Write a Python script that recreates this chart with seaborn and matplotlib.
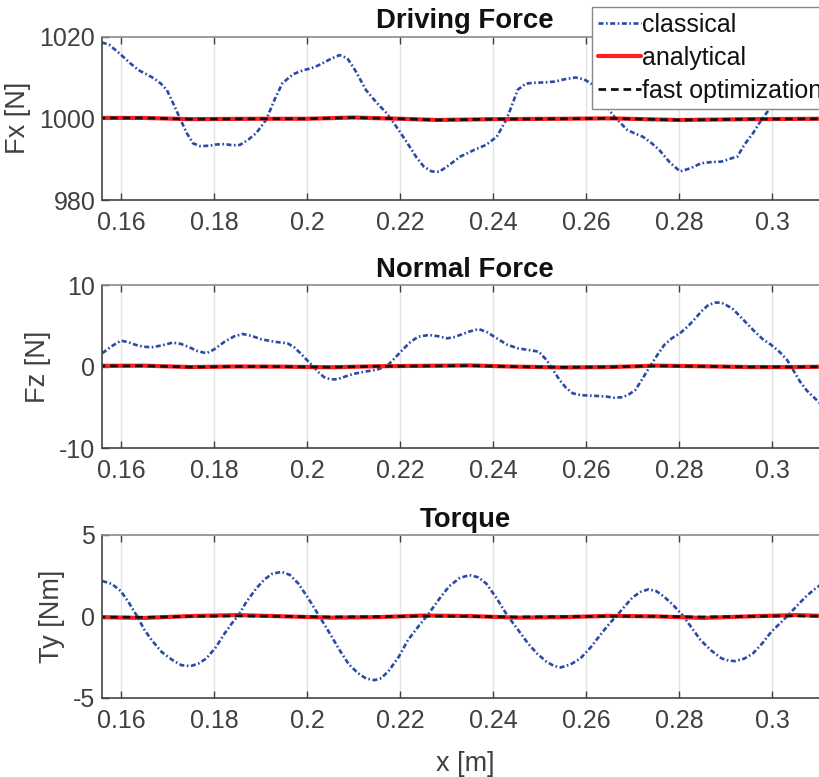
import numpy as np
import pandas as pd
import matplotlib
matplotlib.use("Agg")
import matplotlib.pyplot as plt
import seaborn as sns

# ---------------- data ----------------
fx_cls_x = [0.1559, 0.1575, 0.1598, 0.1620, 0.1638, 0.1655, 0.1671, 0.1686, 0.1699, 0.1713,
            0.1727, 0.1741, 0.1755, 0.1770, 0.1790, 0.1805, 0.1823, 0.1840, 0.1856, 0.1874,
            0.1891, 0.1912, 0.1930, 0.1947, 0.1970, 0.1992, 0.2010, 0.2025, 0.2050, 0.2070,
            0.2087, 0.2105, 0.2127, 0.2150, 0.2171, 0.2195, 0.2216, 0.2235, 0.2251, 0.2268,
            0.2284, 0.2305, 0.2329, 0.2360, 0.2385, 0.2408, 0.2430, 0.2453, 0.2470, 0.2487,
            0.2510, 0.2532, 0.2555, 0.2577, 0.2595, 0.2610, 0.2633, 0.2660, 0.2689, 0.2705,
            0.2722, 0.2740, 0.2757, 0.2780, 0.2802, 0.2825, 0.2847, 0.2870, 0.2891, 0.2915,
            0.2925, 0.2940, 0.2959, 0.2976, 0.2993, 0.3010, 0.3026, 0.3060, 0.3120]
fx_cls_y = [1018.6, 1018.0, 1015.8, 1013.5, 1011.8, 1010.8, 1009.8, 1008.5, 1006.9, 1003.5,
            1000.0, 996.5, 993.9, 993.2, 993.3, 993.6, 993.7, 993.4, 993.5, 994.8,
            996.4, 999.6, 1004.5, 1008.6, 1010.8, 1011.8, 1012.3, 1013.0, 1014.5, 1015.5,
            1014.7, 1011.5, 1006.9, 1003.8, 1001.3, 997.5, 993.9, 990.5, 988.2, 987.0,
            986.9, 988.5, 990.6, 992.3, 993.5, 995.5, 1000.0, 1007.0, 1008.5, 1008.7,
            1008.8, 1009.0, 1009.6, 1010.0, 1009.6, 1008.6, 1004.5, 1000.5, 997.1, 996.3,
            995.5, 994.0, 992.3, 989.2, 987.0, 987.8, 989.0, 989.3, 989.4, 990.3,
            990.6, 993.5, 996.4, 999.5, 1002.1, 1003.5, 1004.5, 1006.5, 1007.5]

fx_ana_x = [0.155, 0.165, 0.175, 0.19, 0.20, 0.21, 0.22, 0.228, 0.24, 0.255, 0.265, 0.28, 0.295, 0.312]
fx_ana_y = [1000.1, 1000.1, 999.8, 999.9, 999.9, 1000.2, 999.9, 999.6, 999.8, 999.9, 1000.0, 999.6, 999.8, 999.9]
fx_opt_y = [1000.1, 1000.1, 999.8, 999.9, 999.9, 1000.2, 999.9, 999.6, 999.8, 999.9, 1000.0, 999.6, 999.8, 999.9]

fz_cls_x = [0.1560, 0.1580, 0.1600, 0.1616, 0.1632, 0.1648, 0.1666, 0.1688, 0.1711, 0.1728,
            0.1744, 0.1765, 0.1784, 0.1800, 0.1823, 0.1843, 0.1862, 0.1882, 0.1902, 0.1930,
            0.1958, 0.1972, 0.1986, 0.2000, 0.2014, 0.2025, 0.2037, 0.2050, 0.2065, 0.2080,
            0.2099, 0.2125, 0.2149, 0.2172, 0.2188, 0.2205, 0.2222, 0.2239, 0.2262, 0.2285,
            0.2301, 0.2315, 0.2329, 0.2349, 0.2369, 0.2388, 0.2408, 0.2430, 0.2453, 0.2475,
            0.2498, 0.2515, 0.2529, 0.2543, 0.2557, 0.2571, 0.2590, 0.2610, 0.2627, 0.2644,
            0.2660, 0.2678, 0.2692, 0.2706, 0.2722, 0.2739, 0.2754, 0.2768, 0.2785, 0.2802,
            0.2820, 0.2835, 0.2850, 0.2863, 0.2878, 0.2891, 0.2914, 0.2937, 0.2959, 0.2979,
            0.2998, 0.3016, 0.3032, 0.3046, 0.3060, 0.3074, 0.3088, 0.3103]
fz_cls_y = [1.64, 2.50, 3.18, 3.00, 2.66, 2.45, 2.37, 2.60, 2.94, 2.80,
            2.45, 1.90, 1.64, 2.10, 3.06, 3.70, 4.00, 3.75, 3.35, 3.05,
            2.86, 2.40, 1.64, 0.80, 0.00, -0.70, -1.30, -1.55, -1.55, -1.25,
            -0.90, -0.60, -0.40, 0.08, 1.00, 2.04, 3.00, 3.67, 3.88, 3.70,
            3.47, 3.60, 3.88, 4.30, 4.61, 4.20, 3.47, 2.70, 2.25, 2.05,
            1.84, 0.82, -0.40, -1.63, -2.60, -3.26, -3.50, -3.55, -3.60, -3.67,
            -3.80, -3.75, -3.40, -2.85, -1.40, 0.20, 1.50, 2.66, 3.50, 4.09,
            5.00, 5.93, 6.90, 7.56, 7.85, 7.84, 7.15, 5.80, 4.49, 3.40,
            2.66, 1.80, 0.82, -0.50, -1.84, -2.90, -3.67, -4.49]

fz_ana_x = [0.155, 0.165, 0.175, 0.185, 0.195, 0.205, 0.215, 0.225, 0.235, 0.245, 0.255,
            0.265, 0.275, 0.285, 0.295, 0.305, 0.312]
fz_ana_y = [0.10, 0.12, -0.05, 0.02, 0.00, -0.08, 0.05, 0.10, 0.15, 0.00, -0.10,
            -0.05, 0.12, 0.05, -0.05, -0.05, 0.00]
fz_opt_y = [0.08, 0.10, -0.05, 0.02, 0.00, -0.06, 0.04, 0.08, 0.12, 0.00, -0.08,
            -0.04, 0.10, 0.04, -0.04, -0.04, 0.00]

ty_cls_x = [0.1560, 0.1580, 0.1600, 0.1618, 0.1635, 0.1650, 0.1666, 0.1688, 0.1711, 0.1730,
            0.1750, 0.1767, 0.1784, 0.1804, 0.1823, 0.1838, 0.1853, 0.1870, 0.1891, 0.1908,
            0.1924, 0.1945, 0.1963, 0.1981, 0.2003, 0.2025, 0.2048, 0.2070, 0.2090, 0.2110,
            0.2127, 0.2145, 0.2160, 0.2177, 0.2197, 0.2217, 0.2240, 0.2262, 0.2285, 0.2306,
            0.2328, 0.2349, 0.2368, 0.2385, 0.2408, 0.2430, 0.2453, 0.2475, 0.2495, 0.2515,
            0.2531, 0.2546, 0.2567, 0.2588, 0.2610, 0.2633, 0.2650, 0.2667, 0.2684, 0.2700,
            0.2717, 0.2734, 0.2751, 0.2768, 0.2787, 0.2807, 0.2827, 0.2846, 0.2869, 0.2891,
            0.2906, 0.2920, 0.2940, 0.2959, 0.2979, 0.2998, 0.3018, 0.3038, 0.3055, 0.3072,
            0.3088, 0.3103]
ty_cls_y = [2.17, 2.00, 1.55, 0.80, 0.00, -0.80, -1.46, -2.20, -2.69, -3.00,
            -3.06, -2.90, -2.58, -1.90, -1.05, -0.45, 0.08, 0.90, 1.72, 2.25,
            2.60, 2.74, 2.55, 2.03, 1.10, 0.08, -1.00, -2.07, -2.95, -3.50,
            -3.82, -3.92, -3.80, -3.30, -2.50, -1.46, -0.60, 0.18, 1.10, 1.86,
            2.35, 2.54, 2.40, 2.03, 1.10, 0.08, -0.80, -1.66, -2.30, -2.79,
            -3.05, -3.14, -2.95, -2.58, -1.90, -1.05, -0.45, 0.08, 0.65, 1.17,
            1.50, 1.66, 1.55, 1.20, 0.70, 0.08, -0.70, -1.46, -2.10, -2.58,
            -2.72, -2.75, -2.60, -2.27, -1.65, -0.95, -0.40, 0.18, 0.70, 1.20,
            1.60, 1.92]

ty_ana_x = [0.155, 0.165, 0.175, 0.185, 0.195, 0.205, 0.215, 0.225, 0.235, 0.245, 0.255,
            0.265, 0.275, 0.285, 0.295, 0.305, 0.312]
ty_ana_y = [-0.05, -0.10, 0.02, 0.08, 0.00, -0.08, -0.05, 0.05, 0.02, -0.08, -0.05,
            0.03, 0.00, -0.10, 0.00, 0.08, 0.02]
ty_opt_y = [-0.04, -0.06, 0.00, 0.03, 0.00, -0.04, -0.02, 0.02, 0.00, -0.04, -0.02,
            0.01, 0.00, -0.04, 0.00, 0.03, 0.00]

titles = ["Driving Force", "Normal Force", "Torque"]
ylabels = ["Fx [N]", "Fz [N]", "Ty [Nm]"]
ylims = [(980, 1020), (-10, 10), (-5, 5)]
yticks = [[980, 1000, 1020], [-10, 0, 10], [-5, 0, 5]]
xticks = [0.16, 0.18, 0.2, 0.22, 0.24, 0.26, 0.28, 0.3]
xticklabels = ["0.16", "0.18", "0.2", "0.22", "0.24", "0.26", "0.28", "0.3"]
series_names = ["classical", "analytical", "fast optimization"]

# ---------------- style ----------------
sns.set_theme(style="white")
plt.rcParams["font.family"] = ["Liberation Sans", "DejaVu Sans"]
plt.rcParams["lines.scale_dashes"] = False

W, H = 819, 777
fig = plt.figure(figsize=(W / 100, H / 100), dpi=100)

left_px = 102.3
right_px = 828.0
tops = [36.7, 285.0, 535.0]
bots = [200.0, 448.3, 697.7]

blue = "#2a4aa6"
red = "#ff1f1f"
gray_txt = "#404040"

panels = [
    (fx_cls_x, fx_cls_y, fx_ana_x, fx_ana_y, fx_opt_y),
    (fz_cls_x, fz_cls_y, fz_ana_x, fz_ana_y, fz_opt_y),
    (ty_cls_x, ty_cls_y, ty_ana_x, ty_ana_y, ty_opt_y),
]

axes = []
for i, (cx, cy, ax_x, ay, oy) in enumerate(panels):
    ax = fig.add_axes([left_px / W, 1 - bots[i] / H, (right_px - left_px) / W, (bots[i] - tops[i]) / H])
    axes.append(ax)
    ax.grid(True, axis="x", color="#e3e3e3", linewidth=1.0)
    ax.set_axisbelow(True)

    sns.lineplot(x=cx, y=cy, ax=ax, color=blue, linewidth=1.9, label=series_names[0], legend=False)
    ax.lines[-1].set_dashes([3.6, 1.8, 1.2, 1.8])
    sns.lineplot(x=ax_x, y=ay, ax=ax, color=red, linewidth=3.0, label=series_names[1], legend=False)
    sns.lineplot(x=ax_x, y=oy, ax=ax, color="#111111", linewidth=2.0, label=series_names[2], legend=False)
    ax.lines[-1].set_dashes([5.5, 3.5])

    ax.set_xlim(0.156, 0.312)
    ax.set_ylim(*ylims[i])
    ax.set_xticks(xticks)
    ax.set_xticklabels(xticklabels)
    ax.set_yticks(yticks[i])
    ax.set_yticklabels([str(v) for v in yticks[i]])
    ax.tick_params(axis="both", direction="in", labelsize=18, colors=gray_txt,
                   length=5, width=1.0, top=True, right=False, left=True, bottom=True)
    ax.tick_params(axis="x", pad=8)
    ax.tick_params(axis="y", pad=5)
    for s in ["left", "bottom"]:
        ax.spines[s].set_color("#444444")
        ax.spines[s].set_linewidth(1.2)
    ax.spines["top"].set_color("#8a8a8a")
    ax.spines["top"].set_linewidth(1.2)
    ax.spines["right"].set_visible(False)

    ax.set_title(titles[i], fontsize=19.8, fontweight="bold", color="#111111", pad=6)
    ax.set_ylabel(ylabels[i], fontsize=19.5, color=gray_txt, labelpad=6)
    ax.set_xlabel("")

axes[2].set_xlabel("x [m]", fontsize=19.5, color=gray_txt, labelpad=13)

handles, labels = axes[0].get_legend_handles_labels()
leg = fig.legend(handles, labels, loc="upper left",
                 bbox_to_anchor=(592 / W, 1 - 6.5 / H), bbox_transform=fig.transFigure,
                 fontsize=18, frameon=True, fancybox=False, framealpha=1.0,
                 edgecolor="#888888", handlelength=1.7, handletextpad=0.05,
                 labelspacing=0.36, borderpad=0.25, borderaxespad=0.0)
leg.get_frame().set_linewidth(1.0)
for t in leg.get_texts():
    t.set_color("#111111")

fig.savefig("out.png", dpi=100)
